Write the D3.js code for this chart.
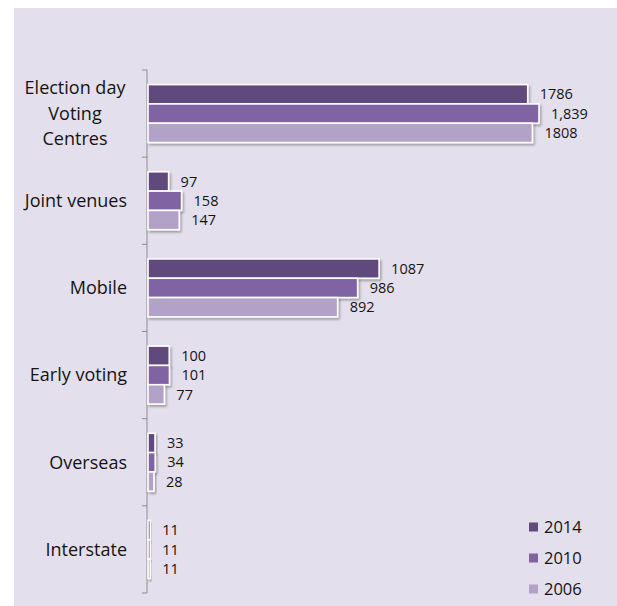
<!DOCTYPE html>
<html>
<head>
<meta charset="utf-8">
<script src="https://cdn.jsdelivr.net/npm/d3@7/dist/d3.min.js"></script>
<style>
  html, body { margin: 0; padding: 0; background: #ffffff; }
  svg { display: block; }
</style>
</head>
<body>
<div id="chart"></div>
<script>
// Polling places by type, three elections
const categories = ["Election day\nVoting\nCentres", "Joint venues", "Mobile", "Early voting", "Overseas", "Interstate"];
const seriesNames = ["2014", "2010", "2006"];
const values2014 = [1786, 97, 1087, 100, 33, 11];
const values2010 = [1839, 158, 986, 101, 34, 11];
const values2006 = [1808, 147, 892, 77, 28, 11];
const valueLabels2014 = ["1786", "97", "1087", "100", "33", "11"];
const valueLabels2010 = ["1,839", "158", "986", "101", "34", "11"];
const valueLabels2006 = ["1808", "147", "892", "77", "28", "11"];
const colors = ["#604a7b", "#8064a2", "#b3a2c7"];

const series = [
  { name: seriesNames[0], values: values2014, labels: valueLabels2014, color: colors[0] },
  { name: seriesNames[1], values: values2010, labels: valueLabels2010, color: colors[1] },
  { name: seriesNames[2], values: values2006, labels: valueLabels2006, color: colors[2] }
];

const W = 617, H = 606;
const font = "'Open Sans', sans-serif";

const svg = d3.select("#chart").append("svg")
  .attr("width", W).attr("height", H);

const defs = svg.append("defs");
const shadow = defs.append("filter").attr("id", "barShadow")
  .attr("x", "-20%").attr("y", "-40%").attr("width", "160%").attr("height", "200%");
shadow.append("feDropShadow")
  .attr("dx", 1.5).attr("dy", 2).attr("stdDeviation", 1.2)
  .attr("flood-color", "#000").attr("flood-opacity", 0.3);

// chart area background
svg.append("rect")
  .attr("x", 14).attr("y", 8).attr("width", W - 14).attr("height", H - 8)
  .attr("fill", "#e4dfec");

const x = d3.scaleLinear().domain([0, 1839]).range([148, 539]);
const y = d3.scaleBand().domain(categories).range([70, 593]).paddingInner(0.335).paddingOuter(0.1675);
const ySub = d3.scaleBand().domain(seriesNames).range([0, y.bandwidth()]);

// vertical category axis
const axis = svg.append("g").attr("transform", "translate(147,0)");
axis.append("line")
  .attr("x1", 0).attr("x2", 0).attr("y1", 70).attr("y2", 593)
  .attr("stroke", "#8c8c8c").attr("stroke-width", 1);
const bounds = categories.map(c => y(c) - y.step() * y.paddingInner() / 2);
bounds.push(593);
axis.selectAll("line.tick").data(bounds).join("line")
  .attr("class", "tick")
  .attr("x1", -5).attr("x2", 0)
  .attr("y1", d => d).attr("y2", d => d)
  .attr("stroke", "#8c8c8c").attr("stroke-width", 1);

// category labels
const labelX = 127;
categories.forEach(c => {
  const lines = c.split("\n");
  const cy = y(c) + y.bandwidth() / 2;
  const lh = 25.5;
  const t = svg.append("text")
    .attr("font-family", font).attr("font-size", 18).attr("fill", "#141414");
  if (lines.length === 1) {
    t.attr("x", labelX).attr("y", cy).attr("dy", "0.35em")
      .attr("text-anchor", "end").text(lines[0]);
  } else {
    t.attr("text-anchor", "middle");
    lines.forEach((ln, i) => {
      t.append("tspan")
        .attr("x", 75)
        .attr("y", cy + (i - (lines.length - 1) / 2) * lh)
        .attr("dy", "0.35em")
        .text(ln);
    });
  }
});

// bars and value labels
const groups = svg.selectAll("g.cat").data(categories).join("g")
  .attr("class", "cat")
  .attr("transform", d => `translate(0,${y(d)})`);

series.forEach(s => {
  groups.append("rect")
    .attr("x", x(0))
    .attr("y", ySub(s.name))
    .attr("width", (d, i) => x(s.values[i]) - x(0))
    .attr("height", ySub.bandwidth())
    .attr("fill", s.color)
    .attr("stroke", "#ffffff").attr("stroke-width", 1.6)
    .attr("filter", "url(#barShadow)");
});
series.forEach(s => {
  groups.append("text")
    .attr("x", (d, i) => x(s.values[i]) + 12)
    .attr("y", ySub(s.name) + ySub.bandwidth() / 2)
    .attr("dy", "0.36em")
    .attr("font-family", font).attr("font-size", 14.5).attr("fill", "#141414")
    .text((d, i) => s.labels[i]);
});

// legend
const legend = svg.append("g");
series.forEach((s, i) => {
  const ly = 527 + i * 31;
  legend.append("rect")
    .attr("x", 529).attr("y", ly - 4.5).attr("width", 9).attr("height", 9)
    .attr("fill", s.color);
  legend.append("text")
    .attr("x", 544).attr("y", ly).attr("dy", "0.36em")
    .attr("font-family", font).attr("font-size", 16.5).attr("fill", "#141414")
    .text(s.name);
});
</script>
</body>
</html>
